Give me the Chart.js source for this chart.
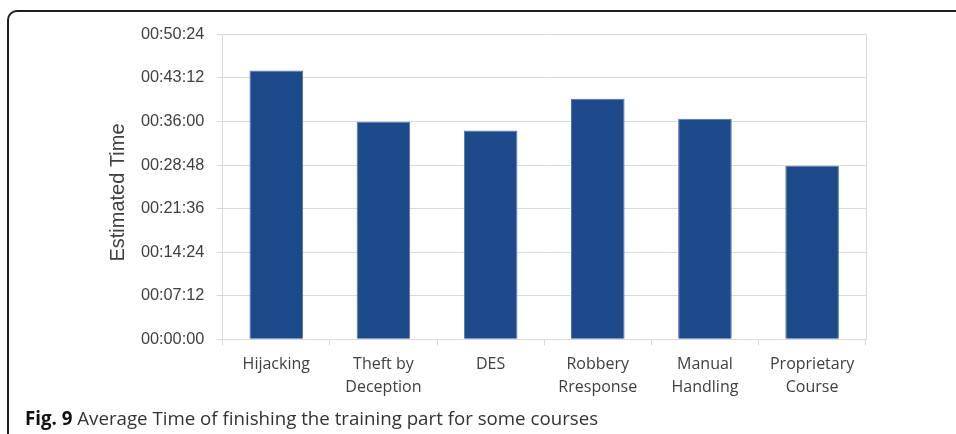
<!DOCTYPE html>
<html>
<head>
<meta charset="utf-8">
<script src="https://cdn.jsdelivr.net/npm/chart.js@4/dist/chart.umd.min.js"></script>
<style>
  html, body { margin: 0; padding: 0; background: #fff; width: 956px; height: 434px; overflow: hidden; }
  #frame { position: absolute; left: 7px; top: 10px; width: 1000px; height: 500px;
           border: 2px solid #1e1e1e; border-radius: 10px; box-sizing: border-box; }
  #chart { position: absolute; left: 0; top: 0; }
  #caption { position: absolute; left: 25px; top: 409.1px; font: 18.7px/18.7px "Open Sans", sans-serif;
             color: #333; white-space: nowrap; }
  #caption b { color: #111; }
</style>
</head>
<body>
<div id="frame"></div>
<canvas id="chart" width="956" height="434"></canvas>
<div id="caption"><b>Fig. 9</b> Average Time of finishing the training part for some courses</div>
<script>
// Courses (multi-line labels as arrays)
const courses = [
  'Hijacking',
  ['Theft by', 'Deception'],
  'DES',
  ['Robbery', 'Rresponse'],
  ['Manual', 'Handling'],
  ['Proprietary', 'Course']
];

// Average time to finish the training part, hh:mm:ss
const averageTimes = ['00:44:25', '00:35:56', '00:34:31', '00:39:44', '00:36:26', '00:28:40'];

// Value axis range and tick spacing
const axisMax = '00:50:24';
const axisStep = '00:07:12';

const yTitle = 'Estimated Time';

const toSeconds = t => t.split(':').reduce((acc, p) => acc * 60 + Number(p), 0);
const pad2 = n => String(n).padStart(2, '0');
const toClock = s => pad2(Math.floor(s / 3600)) + ':' + pad2(Math.floor(s % 3600 / 60)) + ':' + pad2(s % 60);

const gridColor = '#d9d9d9';
const barColor = '#1c4a8a';

// Right-hand plot border and the rotated value-axis title
const plotExtras = {
  id: 'plotExtras',
  afterDraw(chart) {
    const { ctx, chartArea: a } = chart;
    ctx.save();
    ctx.strokeStyle = gridColor;
    ctx.lineWidth = 1;
    const x = Math.round(a.right) + 0.5;
    ctx.beginPath();
    ctx.moveTo(x, a.top);
    ctx.lineTo(x, a.bottom);
    ctx.stroke();
    ctx.translate(a.left - 104.7, (a.top + a.bottom) / 2 + 5.7);
    ctx.rotate(-Math.PI / 2);
    ctx.font = '20px "Liberation Sans", Arial, sans-serif';
    ctx.fillStyle = '#404040';
    ctx.textAlign = 'center';
    ctx.textBaseline = 'middle';
    ctx.fillText(yTitle, 0, 0);
    ctx.restore();
  }
};

new Chart(document.getElementById('chart'), {
  type: 'bar',
  data: {
    labels: courses,
    datasets: [{
      data: averageTimes.map(toSeconds),
      backgroundColor: barColor,
      borderColor: '#4d73ab',
      borderWidth: 1,
      categoryPercentage: 1.0,
      barPercentage: 0.5
    }]
  },
  options: {
    responsive: false,
    animation: false,
    devicePixelRatio: 1,
    layout: { padding: { left: 100, right: 90.3, top: 34.3, bottom: 10 } },
    plugins: { legend: { display: false }, tooltip: { enabled: false } },
    scales: {
      x: {
        afterFit(scale) { scale.height = 84.7; },
        border: { color: gridColor, width: 1 },
        grid: { display: true, drawOnChartArea: false, drawTicks: true, tickLength: 6, tickColor: gridColor, color: gridColor },
        ticks: {
          color: '#404040',
          padding: 8,
          font: { family: '"Open Sans", sans-serif', size: 16, lineHeight: 23 / 16 },
          maxRotation: 0,
          autoSkip: false
        }
      },
      y: {
        min: 0,
        max: toSeconds(axisMax),
        afterFit(scale) { scale.width = 122.7; },
        border: { color: gridColor, width: 1 },
        grid: { color: gridColor, lineWidth: 1, drawTicks: true, tickLength: 6, tickColor: gridColor },
        ticks: {
          stepSize: toSeconds(axisStep),
          color: '#404040',
          padding: 12.4,
          font: { family: '"Liberation Sans", Arial, sans-serif', size: 16.3 },
          callback: v => toClock(v)
        }
      }
    }
  },
  plugins: [plotExtras]
});
</script>
</body>
</html>
